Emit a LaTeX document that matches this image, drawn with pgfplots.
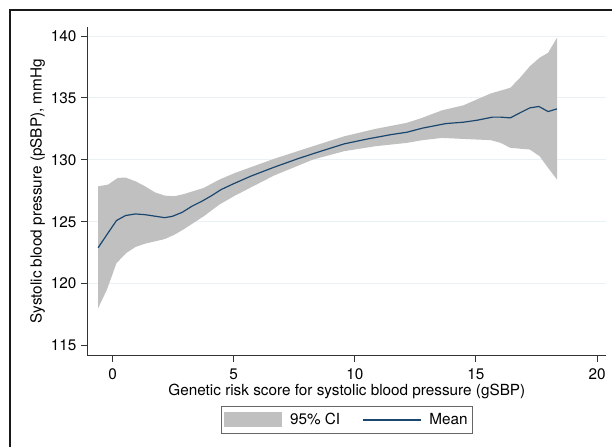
\documentclass[border=0pt]{standalone}
\usepackage{pgfplots}
\pgfplotsset{compat=1.18}
\usepackage{fontspec}
\setmainfont{TeX Gyre Heros}
\definecolor{ciGray}{RGB}{192,192,192}
\definecolor{stNavy}{RGB}{26,71,111}
\definecolor{gridBlue}{RGB}{232,241,244}
\newcommand{\ff}{\fontsize{15.3}{17}\selectfont}
\begin{document}
\ff
\begin{tikzpicture}
\begin{axis}[
  at={(0pt,0pt)}, anchor=south west,
  scale only axis, width=518.3pt, height=328.7pt,
  xmin=-1.03, xmax=20.37, ymin=114.18, ymax=140.73,
  axis x line*=bottom, axis y line*=left,
  axis line style={black!80, line width=0.9pt},
  xtick={0,5,10,15,20}, ytick={115,120,...,140},
  tick style={black!80, line width=0.9pt},
  tick align=outside, major tick length=6.5pt,
  extra y ticks={120,125,130,135,140},
  extra y tick labels={},
  extra y tick style={grid=major, major tick length=0pt, grid style={gridBlue, line width=0.9pt}},
  /pgf/number format/assume math mode=true,
  ticklabel style={font=\ff},
  xticklabel style={yshift=-1.5pt},
  yticklabel style={xshift=0.5pt},
  xlabel={Genetic risk score for systolic blood pressure (gSBP)},
  ylabel={Systolic blood pressure (pSBP), mmHg},
  label style={font=\ff},
  xlabel style={at={(axis description cs:0.5,0)}, anchor=center, yshift=-35.5pt},
  ylabel style={at={(axis description cs:0,0.5)}, anchor=center, xshift=0pt, yshift=50pt},
  legend columns=2,
  legend style={at={(0.5,-0.1521)}, anchor=north, draw=black!60, line width=0.8pt,
    font=\ff, inner xsep=3pt, inner ysep=5pt,
    /tikz/every odd column/.append style={column sep=6pt},
    /tikz/every even column/.append style={column sep=20pt}},
  legend cell align=left,
]
\addplot[fill=ciGray, draw=none,
  legend image code/.code={\fill[ciGray] (0pt,-7.5pt) rectangle (58pt,7.5pt);}]
coordinates {
(-0.6,127.86) (-0.19,128.0) (0.21,128.54) (0.53,128.57) (0.94,128.27) (1.34,127.86)
(1.74,127.38) (2.15,127.11) (2.55,127.06) (2.95,127.24) (3.76,127.73) (4.4,128.4)
(5.05,128.94) (6.66,130.08) (8.27,131.1) (9.56,131.9) (10.85,132.5) (12.15,132.99)
(12.79,133.4) (13.6,134.0) (14.48,134.4) (14.97,134.82) (15.61,135.36) (16.42,135.82)
(16.82,136.63) (17.23,137.57) (17.63,138.25) (17.98,138.65) (18.35,139.87)
(18.35,128.4) (17.98,129.35) (17.63,130.29) (17.23,130.83) (16.42,130.97) (16.02,131.37)
(15.61,131.59) (14.48,131.69) (13.6,131.77) (12.79,131.59) (12.15,131.37) (10.85,131.1)
(9.56,130.7) (8.27,130.02) (6.66,128.73) (5.05,127.11) (4.4,126.38) (3.76,125.44)
(2.95,124.41) (2.55,123.95) (2.15,123.6) (1.34,123.23) (0.94,122.96) (0.56,122.47)
(0.16,121.66) (-0.24,119.5) (-0.6,118.02)
} -- cycle;
\addlegendentry{95\% CI}
\addplot[stNavy, line width=1.2pt,
  legend image code/.code={\draw[stNavy, line width=1.2pt] (0pt,0pt) -- (58pt,0pt);}]
coordinates {
(-0.6,122.9) (-0.24,123.95) (0.16,125.1) (0.53,125.5) (0.94,125.63) (1.34,125.57)
(2.15,125.33) (2.47,125.44) (2.87,125.76) (3.27,126.25) (3.68,126.65) (4.08,127.1)
(4.48,127.6) (4.97,128.05) (5.69,128.67) (6.66,129.4) (7.63,130.08) (8.6,130.7)
(9.56,131.29) (10.53,131.69) (11.5,132.04) (12.15,132.23) (12.79,132.56) (13.76,132.93)
(14.48,133.04) (15.05,133.2) (15.69,133.45) (16.02,133.45) (16.42,133.39) (16.82,133.8)
(17.23,134.2) (17.6,134.31) (17.98,133.9) (18.35,134.12)
};
\addlegendentry{Mean}
\end{axis}
\draw[black!90, line width=1.3pt] (-77.7pt,-91.3pt) -- (-77.7pt,345.7pt) -- (524.3pt,345.7pt);
\pgfresetboundingbox
\useasboundingbox (-87.7pt,-91.3pt) rectangle (524.3pt,355.7pt);
\end{tikzpicture}
\end{document}
